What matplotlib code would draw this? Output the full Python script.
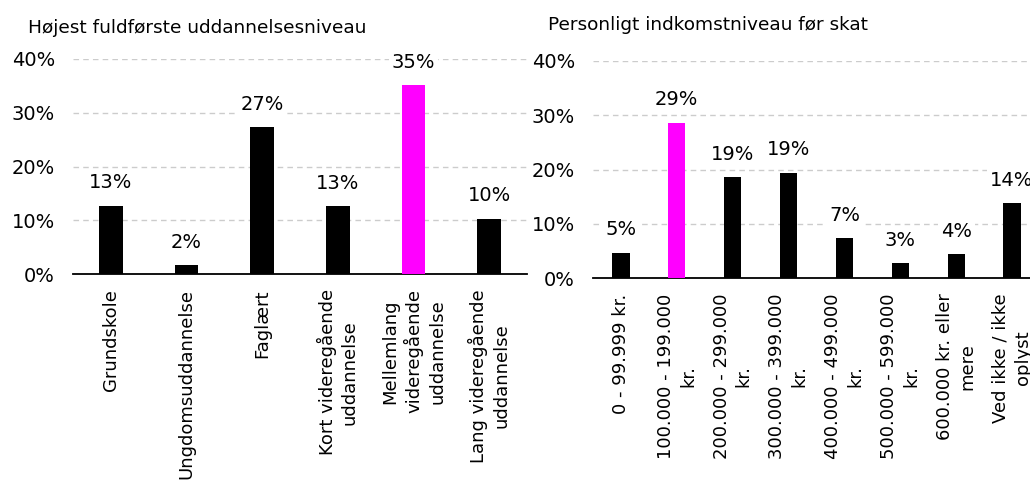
import matplotlib
matplotlib.use("Agg")
import matplotlib.pyplot as plt

# Data
udd_labels = ["Grundskole", "Ungdomsuddannelse", "Faglært",
              "Kort videregående\nuddannelse",
              "Mellemlang\nvideregående\nuddannelse",
              "Lang videregående\nuddannelse"]
udd_values = [12.7, 1.6, 27.3, 12.6, 35.1, 10.3]
udd_highlight = 4

ind_labels = ["0 - 99.999 kr.", "100.000 - 199.000\nkr.", "200.000 - 299.000\nkr.",
              "300.000 - 399.000\nkr.", "400.000 - 499.000\nkr.", "500.000 - 599.000\nkr.",
              "600.000 kr. eller\nmere", "Ved ikke / ikke\noplyst"]
ind_values = [4.7, 28.6, 18.6, 19.4, 7.3, 2.7, 4.4, 13.8]
ind_highlight = 1

yticks = [0, 10, 20, 30, 40]

plt.rcParams["font.family"] = "DejaVu Sans"

W, H = 1030, 480
fig = plt.figure(figsize=(W / 100, H / 100), dpi=100)


def panel(rect, labels, values, highlight, title, title_xy):
    ax = fig.add_axes(rect)
    x = range(len(values))
    colors = ["#ff00ff" if i == highlight else "black" for i in x]
    ax.bar(x, values, width=0.31, color=colors, zorder=3)
    ax.set_xlim(-0.5, len(values) - 0.5)
    ax.set_ylim(0, 40)
    ax.set_yticks(yticks)
    ax.set_yticklabels([f"{t}%" for t in yticks], fontsize=14)
    ax.yaxis.grid(True, color="#cccccc", linestyle=(0, (4, 3)), linewidth=1, zorder=0)
    ax.set_axisbelow(True)
    for s in ["top", "right", "left"]:
        ax.spines[s].set_visible(False)
    ax.spines["bottom"].set_linewidth(1.3)
    ax.tick_params(axis="y", length=0, pad=13)
    ax.tick_params(axis="x", length=0, pad=11)
    ax.set_xticks(list(x))
    ax.set_xticklabels(labels, rotation=90, fontsize=13, multialignment="center",
                       linespacing=1.3)
    for i, v in zip(x, values):
        ax.annotate(f"{round(v)}%", (i, v), xytext=(0, 16.5), textcoords="offset points",
                    ha="center", va="center", fontsize=14, zorder=4,
                    bbox=dict(boxstyle="square,pad=0.15", fc="white", ec="none"),
                    annotation_clip=False)
    fig.text(title_xy[0] / W, 1 - title_xy[1] / H, title, fontsize=13.3, va="center", ha="left")
    return ax


panel([73 / W, 206 / H, 454 / W, 215 / H], udd_labels, udd_values, udd_highlight,
      "Højest fuldførste uddannelsesniveau", (28, 28))
panel([593 / W, 202 / H, 447 / W, 217 / H], ind_labels, ind_values, ind_highlight,
      "Personligt indkomstniveau før skat", (548, 25))

fig.savefig("out.png", dpi=100)
